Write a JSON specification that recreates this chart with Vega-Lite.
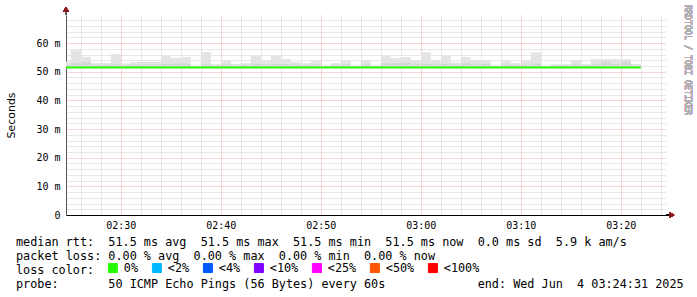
{
  "$schema": "https://vega.github.io/schema/vega-lite/v6.json",
  "width": 600,
  "height": 200,
  "autosize": {"type": "none"},
  "padding": {"left": 66, "top": 15, "right": 31, "bottom": 82},
  "background": "white",
  "config": {"view": {"stroke": null}},
  "title": {
    "text": [
      "median\u00a0rtt:\u00a0\u00a051.5\u00a0ms\u00a0avg\u00a0\u00a051.5\u00a0ms\u00a0max\u00a0\u00a051.5\u00a0ms\u00a0min\u00a0\u00a051.5\u00a0ms\u00a0now\u00a0\u00a00.0\u00a0ms\u00a0sd\u00a0\u00a05.9\u00a0k\u00a0am/s",
      "packet\u00a0loss:\u00a00.00\u00a0%\u00a0avg\u00a0\u00a00.00\u00a0%\u00a0max\u00a0\u00a00.00\u00a0%\u00a0min\u00a0\u00a00.00\u00a0%\u00a0now",
      "loss\u00a0color:",
      "probe:\u00a0\u00a0\u00a0\u00a0\u00a0\u00a0\u00a050\u00a0ICMP\u00a0Echo\u00a0Pings\u00a0(56\u00a0Bytes)\u00a0every\u00a060s\u00a0\u00a0\u00a0\u00a0\u00a0\u00a0\u00a0\u00a0\u00a0\u00a0\u00a0\u00a0\u00a0end:\u00a0Wed\u00a0Jun\u00a0\u00a04\u00a003:24:31\u00a02025"
    ],
    "orient": "top",
    "anchor": "start",
    "frame": "group",
    "dx": -50,
    "dy": 286,
    "offset": 0,
    "baseline": "top",
    "font": "DejaVu Sans Mono",
    "fontSize": 11.8,
    "fontWeight": "normal",
    "color": "#000000",
    "lineHeight": 14.2
  },
  "data": {
    "values": [
      {"t": "2025-06-04T02:24:00", "t2": "2025-06-04T02:25:00", "hi": 0.0536, "mid": 0.0524, "lo": 0.0512, "med": 0.0515, "loss": "0%"},
      {"t": "2025-06-04T02:25:00", "t2": "2025-06-04T02:26:00", "hi": 0.0575, "mid": 0.053, "lo": 0.0512, "med": 0.0515, "loss": "0%"},
      {"t": "2025-06-04T02:26:00", "t2": "2025-06-04T02:27:00", "hi": 0.0551, "mid": 0.0534, "lo": 0.0512, "med": 0.0515, "loss": "0%"},
      {"t": "2025-06-04T02:27:00", "t2": "2025-06-04T02:28:00", "hi": 0.053, "mid": 0.0524, "lo": 0.0512, "med": 0.0515, "loss": "0%"},
      {"t": "2025-06-04T02:28:00", "t2": "2025-06-04T02:29:00", "hi": 0.053, "mid": 0.0524, "lo": 0.0512, "med": 0.0515, "loss": "0%"},
      {"t": "2025-06-04T02:29:00", "t2": "2025-06-04T02:30:00", "hi": 0.0562, "mid": 0.0526, "lo": 0.0512, "med": 0.0515, "loss": "0%"},
      {"t": "2025-06-04T02:30:00", "t2": "2025-06-04T02:31:00", "hi": 0.0529, "mid": 0.0523, "lo": 0.0512, "med": 0.0515, "loss": "0%"},
      {"t": "2025-06-04T02:31:00", "t2": "2025-06-04T02:32:00", "hi": 0.0534, "mid": 0.0525, "lo": 0.0512, "med": 0.0515, "loss": "0%"},
      {"t": "2025-06-04T02:32:00", "t2": "2025-06-04T02:33:00", "hi": 0.0534, "mid": 0.0525, "lo": 0.0512, "med": 0.0515, "loss": "0%"},
      {"t": "2025-06-04T02:33:00", "t2": "2025-06-04T02:34:00", "hi": 0.0534, "mid": 0.0525, "lo": 0.0512, "med": 0.0515, "loss": "0%"},
      {"t": "2025-06-04T02:34:00", "t2": "2025-06-04T02:35:00", "hi": 0.0556, "mid": 0.0528, "lo": 0.0512, "med": 0.0515, "loss": "0%"},
      {"t": "2025-06-04T02:35:00", "t2": "2025-06-04T02:36:00", "hi": 0.0548, "mid": 0.0528, "lo": 0.0512, "med": 0.0515, "loss": "0%"},
      {"t": "2025-06-04T02:36:00", "t2": "2025-06-04T02:37:00", "hi": 0.0551, "mid": 0.0528, "lo": 0.0512, "med": 0.0515, "loss": "0%"},
      {"t": "2025-06-04T02:37:00", "t2": "2025-06-04T02:38:00", "hi": 0.0521, "mid": 0.0519, "lo": 0.0512, "med": 0.0515, "loss": "0%"},
      {"t": "2025-06-04T02:38:00", "t2": "2025-06-04T02:39:00", "hi": 0.0568, "mid": 0.0526, "lo": 0.0512, "med": 0.0515, "loss": "0%"},
      {"t": "2025-06-04T02:39:00", "t2": "2025-06-04T02:40:00", "hi": 0.0526, "mid": 0.0522, "lo": 0.0512, "med": 0.0515, "loss": "0%"},
      {"t": "2025-06-04T02:40:00", "t2": "2025-06-04T02:41:00", "hi": 0.0541, "mid": 0.0525, "lo": 0.0512, "med": 0.0515, "loss": "0%"},
      {"t": "2025-06-04T02:41:00", "t2": "2025-06-04T02:42:00", "hi": 0.0527, "mid": 0.0522, "lo": 0.0512, "med": 0.0515, "loss": "0%"},
      {"t": "2025-06-04T02:42:00", "t2": "2025-06-04T02:43:00", "hi": 0.053, "mid": 0.0523, "lo": 0.0512, "med": 0.0515, "loss": "0%"},
      {"t": "2025-06-04T02:43:00", "t2": "2025-06-04T02:44:00", "hi": 0.0555, "mid": 0.0528, "lo": 0.0512, "med": 0.0515, "loss": "0%"},
      {"t": "2025-06-04T02:44:00", "t2": "2025-06-04T02:45:00", "hi": 0.0541, "mid": 0.0525, "lo": 0.0512, "med": 0.0515, "loss": "0%"},
      {"t": "2025-06-04T02:45:00", "t2": "2025-06-04T02:46:00", "hi": 0.0555, "mid": 0.0528, "lo": 0.0512, "med": 0.0515, "loss": "0%"},
      {"t": "2025-06-04T02:46:00", "t2": "2025-06-04T02:47:00", "hi": 0.0544, "mid": 0.0526, "lo": 0.0512, "med": 0.0515, "loss": "0%"},
      {"t": "2025-06-04T02:47:00", "t2": "2025-06-04T02:48:00", "hi": 0.0534, "mid": 0.0524, "lo": 0.0512, "med": 0.0515, "loss": "0%"},
      {"t": "2025-06-04T02:48:00", "t2": "2025-06-04T02:49:00", "hi": 0.053, "mid": 0.0523, "lo": 0.0512, "med": 0.0515, "loss": "0%"},
      {"t": "2025-06-04T02:49:00", "t2": "2025-06-04T02:50:00", "hi": 0.0538, "mid": 0.0525, "lo": 0.0512, "med": 0.0515, "loss": "0%"},
      {"t": "2025-06-04T02:50:00", "t2": "2025-06-04T02:51:00", "hi": 0.0522, "mid": 0.0519, "lo": 0.0512, "med": 0.0515, "loss": "0%"},
      {"t": "2025-06-04T02:51:00", "t2": "2025-06-04T02:52:00", "hi": 0.053, "mid": 0.0523, "lo": 0.0512, "med": 0.0515, "loss": "0%"},
      {"t": "2025-06-04T02:52:00", "t2": "2025-06-04T02:53:00", "hi": 0.0538, "mid": 0.0525, "lo": 0.0512, "med": 0.0515, "loss": "0%"},
      {"t": "2025-06-04T02:53:00", "t2": "2025-06-04T02:54:00", "hi": 0.0522, "mid": 0.0519, "lo": 0.0512, "med": 0.0515, "loss": "0%"},
      {"t": "2025-06-04T02:54:00", "t2": "2025-06-04T02:55:00", "hi": 0.0538, "mid": 0.0525, "lo": 0.0512, "med": 0.0515, "loss": "0%"},
      {"t": "2025-06-04T02:55:00", "t2": "2025-06-04T02:56:00", "hi": 0.0522, "mid": 0.0519, "lo": 0.0512, "med": 0.0515, "loss": "0%"},
      {"t": "2025-06-04T02:56:00", "t2": "2025-06-04T02:57:00", "hi": 0.0556, "mid": 0.053, "lo": 0.0512, "med": 0.0515, "loss": "0%"},
      {"t": "2025-06-04T02:57:00", "t2": "2025-06-04T02:58:00", "hi": 0.0548, "mid": 0.053, "lo": 0.0512, "med": 0.0515, "loss": "0%"},
      {"t": "2025-06-04T02:58:00", "t2": "2025-06-04T02:59:00", "hi": 0.0551, "mid": 0.0532, "lo": 0.0512, "med": 0.0515, "loss": "0%"},
      {"t": "2025-06-04T02:59:00", "t2": "2025-06-04T03:00:00", "hi": 0.0541, "mid": 0.0525, "lo": 0.0512, "med": 0.0515, "loss": "0%"},
      {"t": "2025-06-04T03:00:00", "t2": "2025-06-04T03:01:00", "hi": 0.0567, "mid": 0.0528, "lo": 0.0512, "med": 0.0515, "loss": "0%"},
      {"t": "2025-06-04T03:01:00", "t2": "2025-06-04T03:02:00", "hi": 0.0541, "mid": 0.0525, "lo": 0.0512, "med": 0.0515, "loss": "0%"},
      {"t": "2025-06-04T03:02:00", "t2": "2025-06-04T03:03:00", "hi": 0.0555, "mid": 0.0528, "lo": 0.0512, "med": 0.0515, "loss": "0%"},
      {"t": "2025-06-04T03:03:00", "t2": "2025-06-04T03:04:00", "hi": 0.0533, "mid": 0.0524, "lo": 0.0512, "med": 0.0515, "loss": "0%"},
      {"t": "2025-06-04T03:04:00", "t2": "2025-06-04T03:05:00", "hi": 0.0551, "mid": 0.053, "lo": 0.0512, "med": 0.0515, "loss": "0%"},
      {"t": "2025-06-04T03:05:00", "t2": "2025-06-04T03:06:00", "hi": 0.054, "mid": 0.0525, "lo": 0.0512, "med": 0.0515, "loss": "0%"},
      {"t": "2025-06-04T03:06:00", "t2": "2025-06-04T03:07:00", "hi": 0.0541, "mid": 0.0526, "lo": 0.0512, "med": 0.0515, "loss": "0%"},
      {"t": "2025-06-04T03:07:00", "t2": "2025-06-04T03:08:00", "hi": 0.0522, "mid": 0.0519, "lo": 0.0512, "med": 0.0515, "loss": "0%"},
      {"t": "2025-06-04T03:08:00", "t2": "2025-06-04T03:09:00", "hi": 0.0537, "mid": 0.0524, "lo": 0.0512, "med": 0.0515, "loss": "0%"},
      {"t": "2025-06-04T03:09:00", "t2": "2025-06-04T03:10:00", "hi": 0.053, "mid": 0.0523, "lo": 0.0512, "med": 0.0515, "loss": "0%"},
      {"t": "2025-06-04T03:10:00", "t2": "2025-06-04T03:11:00", "hi": 0.0537, "mid": 0.0524, "lo": 0.0512, "med": 0.0515, "loss": "0%"},
      {"t": "2025-06-04T03:11:00", "t2": "2025-06-04T03:12:00", "hi": 0.0567, "mid": 0.0528, "lo": 0.0512, "med": 0.0515, "loss": "0%"},
      {"t": "2025-06-04T03:12:00", "t2": "2025-06-04T03:13:00", "hi": 0.0521, "mid": 0.0519, "lo": 0.0512, "med": 0.0515, "loss": "0%"},
      {"t": "2025-06-04T03:13:00", "t2": "2025-06-04T03:14:00", "hi": 0.0526, "mid": 0.0522, "lo": 0.0512, "med": 0.0515, "loss": "0%"},
      {"t": "2025-06-04T03:14:00", "t2": "2025-06-04T03:15:00", "hi": 0.0526, "mid": 0.0522, "lo": 0.0512, "med": 0.0515, "loss": "0%"},
      {"t": "2025-06-04T03:15:00", "t2": "2025-06-04T03:16:00", "hi": 0.0541, "mid": 0.0525, "lo": 0.0512, "med": 0.0515, "loss": "0%"},
      {"t": "2025-06-04T03:16:00", "t2": "2025-06-04T03:17:00", "hi": 0.0526, "mid": 0.0522, "lo": 0.0512, "med": 0.0515, "loss": "0%"},
      {"t": "2025-06-04T03:17:00", "t2": "2025-06-04T03:18:00", "hi": 0.0544, "mid": 0.0526, "lo": 0.0512, "med": 0.0515, "loss": "0%"},
      {"t": "2025-06-04T03:18:00", "t2": "2025-06-04T03:19:00", "hi": 0.0544, "mid": 0.0536, "lo": 0.0512, "med": 0.0515, "loss": "0%"},
      {"t": "2025-06-04T03:19:00", "t2": "2025-06-04T03:20:00", "hi": 0.0544, "mid": 0.0526, "lo": 0.0512, "med": 0.0515, "loss": "0%"},
      {"t": "2025-06-04T03:20:00", "t2": "2025-06-04T03:21:00", "hi": 0.0544, "mid": 0.0536, "lo": 0.0512, "med": 0.0515, "loss": "0%"},
      {"t": "2025-06-04T03:21:00", "t2": "2025-06-04T03:22:00", "hi": 0.0527, "mid": 0.0522, "lo": 0.0512, "med": 0.0515, "loss": "0%"}
    ]
  },
  "layer": [
    {
      "mark": {"type": "rect", "clip": true, "color": "#e4e4e4"},
      "encoding": {
        "x": {
          "field": "t", "type": "temporal",
          "scale": {
            "domain": [
              {"year": 2025, "month": 6, "date": 4, "hours": 2, "minutes": 24, "seconds": 31},
              {"year": 2025, "month": 6, "date": 4, "hours": 3, "minutes": 24, "seconds": 31}
            ],
            "nice": false
          },
          "axis": {
            "title": null,
            "tickCount": 100,
            "values": [
              {"year": 2025, "month": 6, "date": 4, "hours": 2, "minutes": 26},
              {"year": 2025, "month": 6, "date": 4, "hours": 2, "minutes": 28},
              {"year": 2025, "month": 6, "date": 4, "hours": 2, "minutes": 30},
              {"year": 2025, "month": 6, "date": 4, "hours": 2, "minutes": 32},
              {"year": 2025, "month": 6, "date": 4, "hours": 2, "minutes": 34},
              {"year": 2025, "month": 6, "date": 4, "hours": 2, "minutes": 36},
              {"year": 2025, "month": 6, "date": 4, "hours": 2, "minutes": 38},
              {"year": 2025, "month": 6, "date": 4, "hours": 2, "minutes": 40},
              {"year": 2025, "month": 6, "date": 4, "hours": 2, "minutes": 42},
              {"year": 2025, "month": 6, "date": 4, "hours": 2, "minutes": 44},
              {"year": 2025, "month": 6, "date": 4, "hours": 2, "minutes": 46},
              {"year": 2025, "month": 6, "date": 4, "hours": 2, "minutes": 48},
              {"year": 2025, "month": 6, "date": 4, "hours": 2, "minutes": 50},
              {"year": 2025, "month": 6, "date": 4, "hours": 2, "minutes": 52},
              {"year": 2025, "month": 6, "date": 4, "hours": 2, "minutes": 54},
              {"year": 2025, "month": 6, "date": 4, "hours": 2, "minutes": 56},
              {"year": 2025, "month": 6, "date": 4, "hours": 2, "minutes": 58},
              {"year": 2025, "month": 6, "date": 4, "hours": 3, "minutes": 0},
              {"year": 2025, "month": 6, "date": 4, "hours": 3, "minutes": 2},
              {"year": 2025, "month": 6, "date": 4, "hours": 3, "minutes": 4},
              {"year": 2025, "month": 6, "date": 4, "hours": 3, "minutes": 6},
              {"year": 2025, "month": 6, "date": 4, "hours": 3, "minutes": 8},
              {"year": 2025, "month": 6, "date": 4, "hours": 3, "minutes": 10},
              {"year": 2025, "month": 6, "date": 4, "hours": 3, "minutes": 12},
              {"year": 2025, "month": 6, "date": 4, "hours": 3, "minutes": 14},
              {"year": 2025, "month": 6, "date": 4, "hours": 3, "minutes": 16},
              {"year": 2025, "month": 6, "date": 4, "hours": 3, "minutes": 18},
              {"year": 2025, "month": 6, "date": 4, "hours": 3, "minutes": 20},
              {"year": 2025, "month": 6, "date": 4, "hours": 3, "minutes": 22},
              {"year": 2025, "month": 6, "date": 4, "hours": 3, "minutes": 24}
            ],
            "labelExpr": "minutes(datum.value) % 10 === 0 ? timeFormat(datum.value, '%H:%M') : ''",
            "labelOverlap": false,
            "grid": true,
            "gridColor": {"condition": {"test": "minutes(datum.value) % 10 === 0", "value": "#f0a8a8"}, "value": "#d0d0d0"},
            "gridDash": [1, 1],
            "ticks": false,
            "labelPadding": 5,
            "labelFont": "DejaVu Sans Mono",
            "labelFontSize": 10,
            "labelColor": "#000000",
            "domainColor": "#000000"
          }
        },
        "x2": {"field": "t2"},
        "y": {
          "field": "hi", "type": "quantitative",
          "scale": {"domain": [0, 0.0698], "nice": false, "zero": true},
          "axis": {
            "title": "Seconds",
            "tickCount": 100,
            "values": [0, 0.002, 0.004, 0.006, 0.008, 0.01, 0.012, 0.014, 0.016, 0.018, 0.02, 0.022, 0.024, 0.026, 0.028, 0.03, 0.032, 0.034, 0.036, 0.038, 0.04, 0.042, 0.044, 0.046, 0.048, 0.05, 0.052, 0.054, 0.056, 0.058, 0.06, 0.062, 0.064, 0.066, 0.068],
            "labelExpr": "round(datum.value * 1000) % 10 === 0 ? (datum.value === 0 ? '0' : format(round(datum.value * 1000), 'd') + ' m') : ''",
            "labelOverlap": false,
            "grid": true,
            "gridColor": {"condition": {"test": "round(datum.value * 1000) % 10 === 0", "value": "#f0a8a8"}, "value": "#d0d0d0"},
            "gridDash": [1, 1],
            "ticks": false,
            "labelPadding": 6,
            "labelFont": "DejaVu Sans Mono",
            "labelFontSize": 10,
            "labelColor": "#000000",
            "domainColor": "#555555",
            "titleFont": "DejaVu Sans",
            "titleFontSize": 11,
            "titleFontWeight": "normal",
            "titleColor": "#000000",
            "titlePadding": 19
          }
        },
        "y2": {"field": "lo"}
      }
    },
    {
      "mark": {"type": "rect", "clip": true, "color": "#d8d8d8"},
      "encoding": {
        "x": {"field": "t", "type": "temporal"},
        "x2": {"field": "t2"},
        "y": {"field": "mid", "type": "quantitative"},
        "y2": {"field": "lo"}
      }
    },
    {
      "mark": {"type": "rule", "clip": true, "strokeWidth": 2},
      "encoding": {
        "x": {"field": "t", "type": "temporal"},
        "x2": {"field": "t2"},
        "y": {"field": "med", "type": "quantitative"},
        "color": {
          "field": "loss", "type": "nominal",
          "scale": {
            "domain": ["0%", "<2%", "<4%", "<10%", "<25%", "<50%", "<100%"],
            "range": ["#26ff00", "#00b8ff", "#0059ff", "#7e00ff", "#ff00ff", "#ff5500", "#ff0000"]
          },
          "legend": {
            "orient": "none",
            "legendX": 41,
            "legendY": 247,
            "direction": "horizontal",
            "title": null,
            "symbolType": "square",
            "symbolSize": 81,
            "labelFont": "DejaVu Sans Mono",
            "labelFontSize": 11.8,
            "labelColor": "#000000",
            "labelOffset": 5,
            "columnPadding": 11,
            "padding": 0,
            "encode": {
              "symbols": {
                "update": {
                  "fill": {"scale": "color", "field": "value"},
                  "fillOpacity": {"value": 1},
                  "stroke": {"value": "#000000"},
                  "strokeWidth": {"value": 1}
                }
              }
            }
          }
        }
      }
    },
    {
      "mark": {"type": "text", "text": "RRDTOOL / TOBI OETIKER", "angle": 90, "align": "center", "baseline": "middle", "font": "DejaVu Sans Mono", "fontSize": 8.3, "fill": "#b0b0b0", "clip": false},
      "encoding": {
        "x": {"datum": {"year": 2025, "month": 6, "date": 4, "hours": 3, "minutes": 26, "seconds": 37}, "type": "temporal"},
        "y": {"datum": 0.0541, "type": "quantitative"}
      }
    },
    {
      "mark": {"type": "rule", "color": "#000000", "strokeWidth": 1, "clip": false},
      "encoding": {
        "x": {"datum": {"year": 2025, "month": 6, "date": 4, "hours": 3, "minutes": 24, "seconds": 31}, "type": "temporal"},
        "x2": {"datum": {"year": 2025, "month": 6, "date": 4, "hours": 3, "minutes": 25, "seconds": 4}},
        "y": {"datum": 0, "type": "quantitative"}
      }
    },
    {
      "mark": {"type": "rule", "color": "#555555", "strokeWidth": 1, "clip": false},
      "encoding": {
        "x": {"datum": {"year": 2025, "month": 6, "date": 4, "hours": 2, "minutes": 24, "seconds": 31}, "type": "temporal"},
        "y": {"datum": 0.0698, "type": "quantitative"},
        "y2": {"datum": 0.0715}
      }
    },
    {
      "mark": {"type": "point", "shape": "triangle-right", "filled": true, "color": "#8b1a1a", "size": 30, "clip": false},
      "encoding": {
        "x": {"datum": {"year": 2025, "month": 6, "date": 4, "hours": 3, "minutes": 25, "seconds": 6}, "type": "temporal"},
        "y": {"datum": 0, "type": "quantitative"}
      }
    },
    {
      "mark": {"type": "point", "shape": "triangle-up", "filled": true, "color": "#8b1a1a", "size": 30, "clip": false},
      "encoding": {
        "x": {"datum": {"year": 2025, "month": 6, "date": 4, "hours": 2, "minutes": 24, "seconds": 31}, "type": "temporal"},
        "y": {"datum": 0.0718, "type": "quantitative"}
      }
    }
  ]
}
